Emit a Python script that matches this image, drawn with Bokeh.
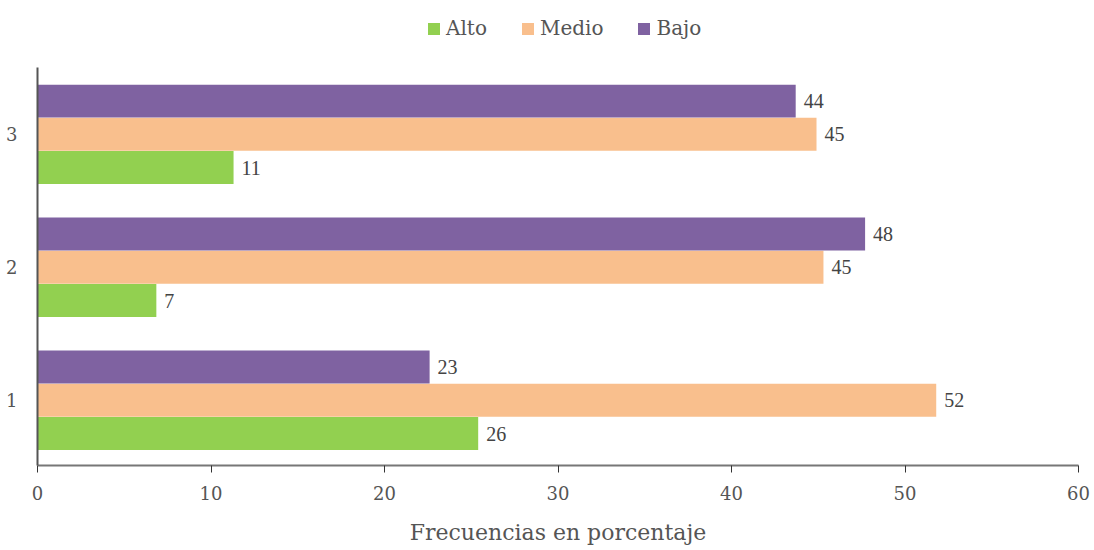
from bokeh.plotting import figure
from bokeh.models import ColumnDataSource, Legend, LegendItem, Range1d, FixedTicker, LabelSet
from bokeh.embed import file_html
from bokeh.resources import INLINE

categories = [1, 2, 3]
alto = [25.4, 6.85, 11.3]
medio = [51.8, 45.3, 44.9]
bajo = [22.6, 47.7, 43.7]
alto_lbl = ["26", "7", "11"]
medio_lbl = ["52", "45", "45"]
bajo_lbl = ["23", "48", "44"]
x_ticks = [0, 10, 20, 30, 40, 50, 60]

FONT = "DejaVu Serif"
GREEN, ORANGE, PURPLE = "#92d050", "#f9bf8d", "#7f62a1"

p = figure(width=1090, height=548, output_backend="svg", toolbar_location=None,
           x_range=Range1d(0, 60), y_range=Range1d(0.51, 3.969),
           min_border_left=37, min_border_right=12, min_border_top=5, min_border_bottom=83)

series = [("Alto", alto, alto_lbl, GREEN, -0.25),
          ("Medio", medio, medio_lbl, ORANGE, 0.0),
          ("Bajo", bajo, bajo_lbl, PURPLE, 0.25)]
items = {}
for name, vals, lbls, col, off in series:
    src = ColumnDataSource(dict(y=[c + off for c in categories], right=vals, lbl=lbls))
    r = p.hbar(y="y", right="right", left=0, height=0.248, source=src,
               fill_color=col, line_color=None)
    items[name] = r
    p.add_layout(LabelSet(x="right", y="y", text="lbl", source=src, x_offset=8,
                          text_baseline="middle", text_font=FONT, text_font_size="20px",
                          text_color="#444444"))

legend = Legend(items=[LegendItem(label=n, renderers=[items[n]]) for n in ["Alto", "Medio", "Bajo"]],
                orientation="horizontal", location=(389, 425),
                label_text_font=FONT, label_text_font_size="20px", label_text_color="#555555",
                glyph_width=15, glyph_height=15, spacing=33, label_standoff=5,
                border_line_color=None, background_fill_alpha=0, margin=0, padding=0)
p.add_layout(legend, "center")

p.grid.visible = False
p.outline_line_color = None

p.xaxis.ticker = FixedTicker(ticks=x_ticks)
p.xaxis.axis_label = "Frecuencias en porcentaje"
p.xaxis.axis_label_text_font = FONT
p.xaxis.axis_label_text_font_size = "22px"
p.xaxis.axis_label_text_font_style = "normal"
p.xaxis.axis_label_text_color = "#555555"
p.xaxis.axis_label_standoff = 17
p.xaxis.major_label_text_font = FONT
p.xaxis.major_label_text_font_size = "18px"
p.xaxis.major_label_text_color = "#555555"
p.xaxis.major_label_standoff = 13
p.xaxis.axis_line_color = "#777777"
p.xaxis.axis_line_width = 2
p.xaxis.major_tick_line_color = "#333333"
p.xaxis.major_tick_in = 0
p.xaxis.major_tick_out = 7
p.xaxis.minor_tick_line_color = None

p.yaxis.ticker = FixedTicker(ticks=categories)
p.yaxis.bounds = (0.51, 3.5)
p.yaxis.major_label_text_font = FONT
p.yaxis.major_label_text_font_size = "18px"
p.yaxis.major_label_text_color = "#555555"
p.yaxis.major_label_standoff = 14
p.yaxis.axis_line_color = "#555555"
p.yaxis.axis_line_width = 2
p.yaxis.major_tick_line_color = None
p.yaxis.minor_tick_line_color = None

open("out.html", "w").write(file_html(p, INLINE))
